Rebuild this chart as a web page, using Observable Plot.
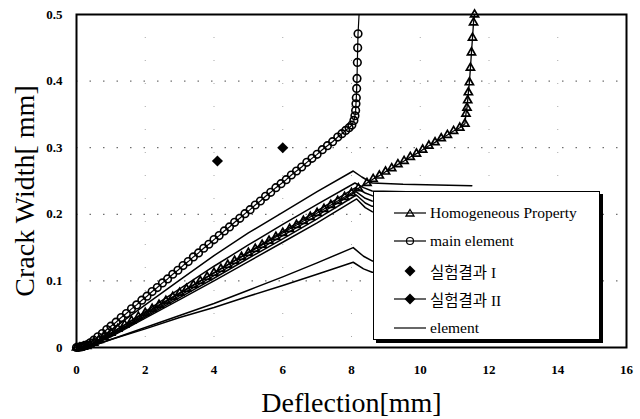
<!DOCTYPE html>
<html><head><meta charset="utf-8">
<script src="https://cdn.jsdelivr.net/npm/d3@7"></script>
<script src="https://cdn.jsdelivr.net/npm/@observablehq/plot@0.6"></script>
<style>
body{margin:0;background:#fff;}
#wrap{position:relative;width:640px;height:419px;}
#legend{position:absolute;left:373px;top:191px;width:225px;height:147px;border:1px solid #000;box-shadow:3px 3px 0 #000;background:#fff;font-family:"Liberation Serif",serif;font-size:15.5px;color:#000;}
.row{position:absolute;left:0;height:20px;display:flex;align-items:center;white-space:nowrap;}
.row svg{width:36px;height:20px;margin-left:18px;}
.row span{margin-left:2px;}
.kr{font-family:"Noto Sans CJK KR",sans-serif;font-size:15.5px;}
</style></head><body><div id="wrap"></div><script>
const xTicks = [0, 2, 4, 6, 8, 10, 12, 14, 16];
const yTicks = [0, 0.1, 0.2, 0.3, 0.4, 0.5];
const xLabel = "Deflection[mm]";
const yLabel = "Crack Width[ mm]";
const seriesNames = ["Homogeneous Property", "main element", "실험결과 I", "실험결과 II", "element"];

// main element (circles)
const mainX = [0,0.05,0.1,0.15,0.2,0.25,0.3,0.4,0.5,0.62,0.75,0.88,1.0,1.15,1.3,1.45,1.6,1.75,1.9,2.05,2.2,2.35,2.5,2.65,2.8,2.95,3.1,3.25,3.4,3.55,3.7,3.85,4.0,4.15,4.3,4.45,4.6,4.75,4.9,5.05,5.2,5.35,5.5,5.65,5.8,5.95,6.1,6.25,6.4,6.55,6.7,6.85,7.0,7.15,7.3,7.45,7.6,7.72,7.83,7.93,8.01,8.07,8.1,8.12,8.13,8.14,8.15,8.16,8.17,8.18,8.19];
const mainY = [0,0,0.001,0.001,0.002,0.003,0.004,0.007,0.011,0.016,0.021,0.027,0.032,0.038,0.045,0.051,0.058,0.064,0.071,0.077,0.084,0.090,0.097,0.103,0.110,0.116,0.123,0.129,0.136,0.142,0.149,0.155,0.162,0.168,0.175,0.181,0.188,0.194,0.201,0.207,0.214,0.220,0.227,0.233,0.240,0.246,0.252,0.259,0.265,0.271,0.278,0.284,0.290,0.297,0.303,0.309,0.316,0.321,0.326,0.330,0.334,0.341,0.348,0.356,0.366,0.375,0.389,0.404,0.428,0.450,0.471];
const mainEnd = [8.22, 0.5];

// Homogeneous Property (triangles)
const homX = [0,0.1,0.2,0.3,0.4,0.5,0.65,0.8,1.0,1.2,1.4,1.6,1.8,2.0,2.2,2.4,2.6,2.8,3.0,3.2,3.4,3.6,3.8,4.0,4.2,4.4,4.6,4.8,5.0,5.2,5.4,5.6,5.8,6.0,6.2,6.4,6.6,6.8,7.0,7.2,7.4,7.6,7.8,8.0,8.2,8.45,8.63,8.81,8.99,9.17,9.35,9.53,9.71,9.89,10.07,10.25,10.43,10.61,10.79,10.97,11.15,11.3,11.33,11.36,11.38,11.40,11.43,11.46,11.49,11.52,11.55,11.58];
const homY = [0,0,0.001,0.002,0.004,0.007,0.011,0.016,0.022,0.028,0.034,0.040,0.046,0.052,0.058,0.064,0.070,0.076,0.082,0.088,0.094,0.100,0.106,0.112,0.118,0.124,0.130,0.136,0.142,0.148,0.154,0.160,0.166,0.172,0.178,0.184,0.190,0.196,0.202,0.208,0.214,0.220,0.226,0.232,0.239,0.247,0.253,0.258,0.264,0.269,0.275,0.280,0.286,0.291,0.297,0.303,0.308,0.314,0.319,0.325,0.330,0.336,0.351,0.360,0.371,0.383,0.398,0.420,0.443,0.465,0.488,0.5];

// 실험결과 I (diamonds)
const exp1X = [4.1, 6.0];
const exp1Y = [0.28, 0.30];

// element lines
const elemAX = [0,0.3,0.6,1,2,3,4,5,6,7,8.05,8.3,8.6,9.5,11.5];
const elemAY = [0,0.002,0.010,0.026,0.064,0.101,0.138,0.172,0.203,0.234,0.265,0.256,0.247,0.245,0.243];
const elemBX = [0,0.3,0.6,1,2,3,4,5,6,7,8.1,8.35,8.6,9.6];
const elemBY = [0,0.002,0.009,0.021,0.054,0.088,0.122,0.154,0.185,0.215,0.247,0.240,0.235,0.234];
const elemCX = [0,0.3,0.6,1,2,3,4,5,6,7,8.12,8.4,8.6,9.6];
const elemCY = [0,0.002,0.008,0.019,0.050,0.081,0.112,0.143,0.174,0.205,0.240,0.232,0.228,0.227];
const elemDX = [0,0.3,0.6,1,2,3,4,5,6,7,8.13,8.4,8.6,9.6];
const elemDY = [0,0.002,0.008,0.018,0.048,0.078,0.108,0.138,0.168,0.198,0.234,0.224,0.220,0.219];
const elemEX = [0,0.3,0.6,1,2,3,4,5,6,7,8.14,8.4,8.6,9.6];
const elemEY = [0,0.002,0.007,0.017,0.046,0.075,0.104,0.134,0.163,0.193,0.229,0.217,0.212,0.211];
const elemFX = [0,0.3,0.6,1,2,3,4,5,6,7,8.15,8.4,8.6,9.6];
const elemFY = [0,0.002,0.007,0.016,0.044,0.072,0.100,0.129,0.158,0.187,0.223,0.210,0.204,0.203];
const elemGX = [0,0.3,0.6,1,2,3,4,5,6,7,8.05,8.35,8.6,9.6];
const elemGY = [0,0.001,0.005,0.012,0.030,0.048,0.066,0.086,0.106,0.127,0.150,0.137,0.130,0.130];
const elemHX = [0,0.3,0.6,1,2,3,4,5,6,7,8.05,8.35,8.6,9.6];
const elemHY = [0,0.001,0.005,0.012,0.028,0.045,0.060,0.077,0.093,0.110,0.128,0.118,0.113,0.113];

const zip = (xs, ys, extra = {}) => xs.map((x, i) => ({x, y: ys[i], ...extra}));
const mainPts = zip(mainX, mainY);
const mainLine = [...mainPts, {x: mainEnd[0], y: mainEnd[1]}];
const homPts = zip(homX, homY);
const exp1 = zip(exp1X, exp1Y);
const elements = [
  zip(elemAX, elemAY, {k: "A"}), zip(elemBX, elemBY, {k: "B"}), zip(elemCX, elemCY, {k: "C"}),
  zip(elemDX, elemDY, {k: "D"}), zip(elemEX, elemEY, {k: "E"}), zip(elemFX, elemFY, {k: "F"}),
  zip(elemGX, elemGY, {k: "G"}), zip(elemHX, elemHY, {k: "H"})
].flat();

const serif = "'Liberation Serif', 'Times New Roman', serif";
const chart = Plot.plot({
  width: 640, height: 419,
  marginLeft: 76, marginRight: 14, marginTop: 14, marginBottom: 72,
  style: {fontFamily: serif, fontSize: "13px", fontWeight: "bold", background: "#fff", color: "#000"},
  x: {domain: [0, 16]},
  y: {domain: [0, 0.5]},
  marks: [
    Plot.gridY(yTicks.filter(d => d > 0 && d < 0.5), {stroke: "#000", strokeOpacity: 0.7, strokeDasharray: "1.5,12"}),
    Plot.gridX(xTicks.filter(d => d > 0 && d < 16), {stroke: "#000", strokeOpacity: 0.35, strokeDasharray: "1,22"}),
    Plot.line(elements, {x: "x", y: "y", z: "k", stroke: "#000", strokeWidth: 1.5}),
    Plot.line(homPts, {x: "x", y: "y", stroke: "#000", strokeWidth: 1.3}),
    Plot.dot(homPts, {x: "x", y: "y", symbol: "triangle", r: 3, stroke: "#000", strokeWidth: 1.7, fill: "none"}),
    Plot.line(mainLine, {x: "x", y: "y", stroke: "#000", strokeWidth: 1.2}),
    Plot.dot(mainPts, {x: "x", y: "y", symbol: "circle", r: 3.8, stroke: "#000", strokeWidth: 1.6, fill: "none"}),
    Plot.dot(exp1, {x: "x", y: "y", symbol: "diamond2", r: 5, fill: "#000", stroke: "none"}),
    Plot.frame({stroke: "#000", strokeWidth: 2}),
    Plot.axisX(xTicks, {tickSize: 0, tickPadding: 17, label: null}),
    Plot.axisY(yTicks, {tickSize: 0, tickPadding: 14, label: null,
      tickFormat: d => d === 0 ? "0" : d.toFixed(1)}),
    Plot.text([xLabel], {frameAnchor: "bottom", dy: 56, lineAnchor: "middle", textAnchor: "middle", fontSize: 28, fontWeight: "normal", fontFamily: serif, text: d => d}),
    Plot.text([yLabel], {frameAnchor: "left", dx: -51, dy: 10, rotate: -90, lineAnchor: "middle", textAnchor: "middle", fontSize: 28, fontWeight: "normal", fontFamily: serif, text: d => d})
  ]
});
const wrap = document.getElementById("wrap");
wrap.appendChild(chart);

// legend
const sym = {
  tri: '<polygon points="18,6.5 22,13 14,13" fill="none" stroke="#000" stroke-width="1.3"/>',
  circ: '<circle cx="18" cy="10" r="3.5" fill="none" stroke="#000" stroke-width="1.2"/>',
  dia: '<polygon points="18,4.5 23.5,10 18,15.5 12.5,10" fill="#000"/>'
};
const lineSvg = '<line x1="2" y1="10" x2="34" y2="10" stroke="#000" stroke-width="1.2"/>';
const rows = [
  {name: seriesNames[0], svg: lineSvg + sym.tri, cls: ""},
  {name: seriesNames[1], svg: lineSvg + sym.circ, cls: ""},
  {name: seriesNames[2], svg: sym.dia, cls: "kr"},
  {name: seriesNames[3], svg: lineSvg + sym.dia, cls: "kr"},
  {name: seriesNames[4], svg: lineSvg, cls: ""}
];
const tops = [11, 39, 69, 97, 126];
const lg = document.createElement("div");
lg.id = "legend";
rows.forEach((r, i) => {
  const d = document.createElement("div");
  d.className = "row";
  d.style.top = tops[i] + "px";
  let label = r.name;
  if (r.cls === "kr") {
    const parts = r.name.split(" ");
    label = '<span class="kr" style="margin-left:0">' + parts[0] + '</span> <span style="font-family:\'Liberation Serif\',serif;margin-left:0">' + parts[1] + '</span>';
  }
  d.innerHTML = '<svg viewBox="0 0 36 20">' + r.svg + '</svg><span>' + label + '</span>';
  lg.appendChild(d);
});
wrap.appendChild(lg);
</script></body></html>
